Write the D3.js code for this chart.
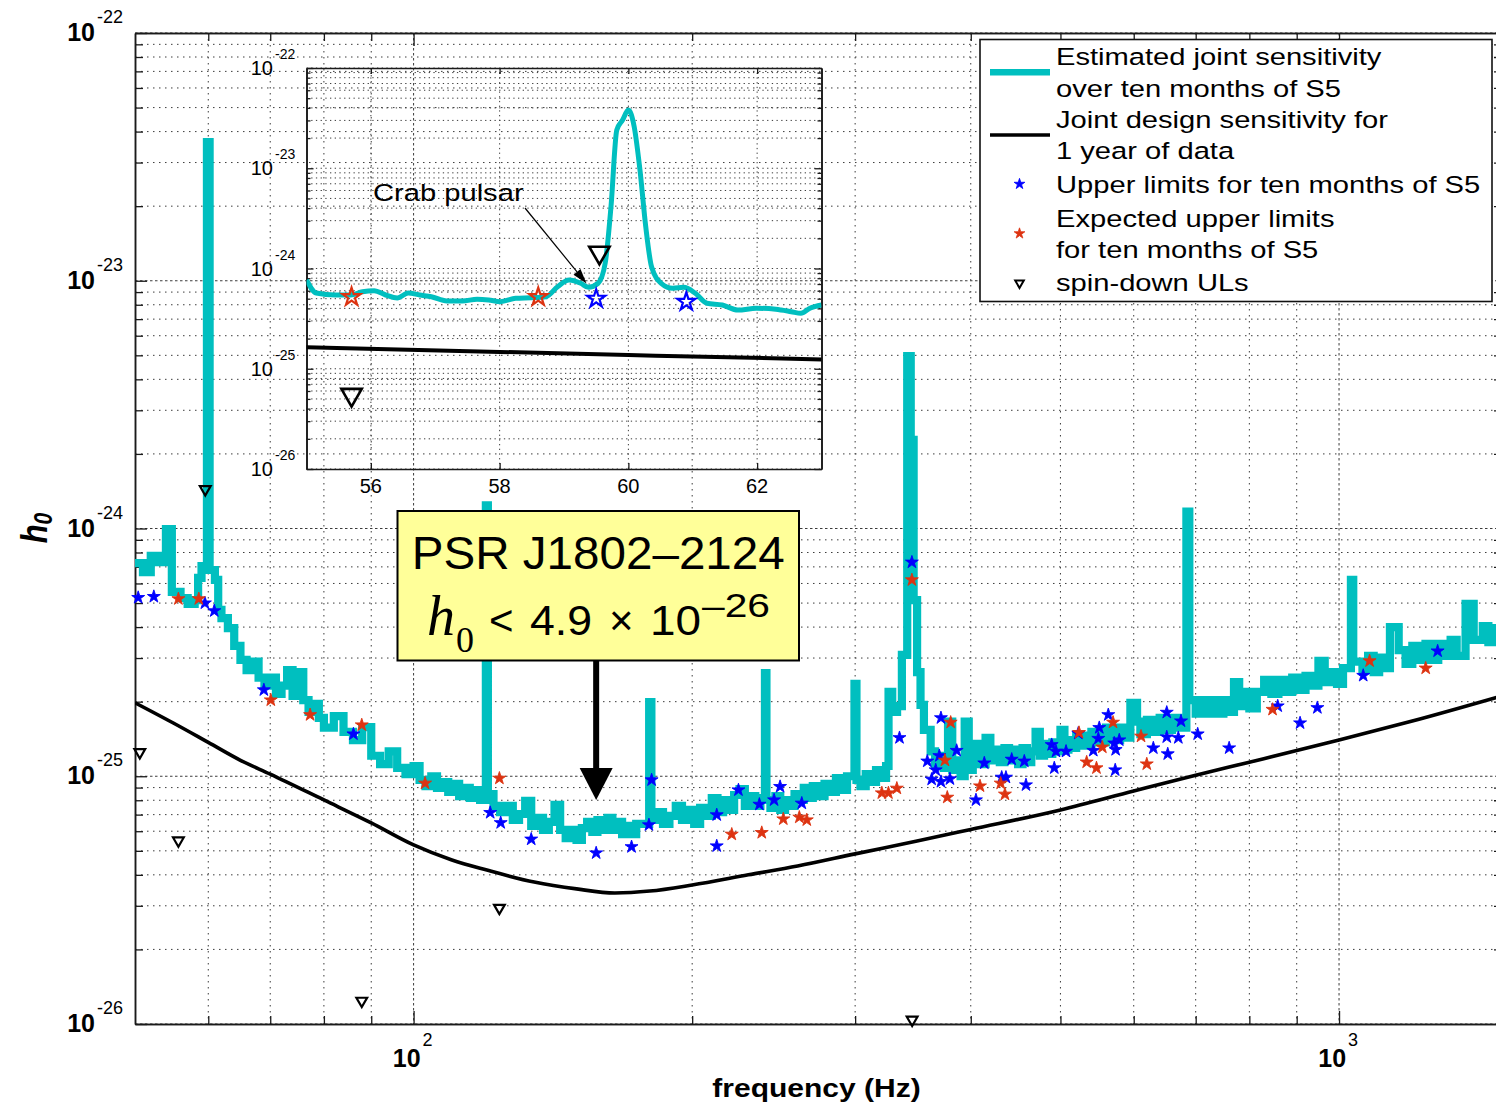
<!DOCTYPE html>
<html>
<head>
<meta charset="utf-8">
<title>Pulsar h0 upper limits vs frequency</title>
<script src="https://cdn.jsdelivr.net/npm/d3@7/dist/d3.min.js"></script>
<style>
  html, body { margin: 0; padding: 0; background: #ffffff; }
  svg { display: block; }
  text { font-family: "Liberation Sans", Arial, Helvetica, sans-serif; fill: #000; }
</style>
</head>
<body>
<svg id="chart" width="1496" height="1104"></svg>
<script>
// ===================== data =====================
// Estimated joint sensitivity over ten months of S5 (step curve, Hz / h0)
const sensFreq = [
  50, 51, 52, 53, 54, 54.8, 56, 57, 58, 58.5, 59, 59.8, 60.2, 61, 61.5, 62, 63, 64, 65, 66,
  67, 68, 69, 70, 71, 72, 73, 74, 75, 76, 77, 78, 79, 80, 82, 84, 86, 88, 90, 92,
  94, 96, 98, 100, 101.5, 103, 104.5, 106, 107.5, 109, 110.5, 112, 113.5, 115, 116.5, 118, 119.7, 120.3, 122, 124,
  126, 128, 130, 132, 134, 136, 138, 140, 142, 144, 146, 148, 150, 152, 154, 156, 158, 160, 162, 164,
  166, 168, 170, 172, 174, 179.7, 180.7, 183, 186, 189, 192, 195, 198, 201, 204, 207, 210, 213, 216, 219,
  222, 225, 228, 231, 234, 237, 239.7, 240.6, 243, 246, 249, 252, 255, 258, 261, 264, 267, 270, 274, 278,
  282, 286, 290, 294, 299.5, 301, 304, 308, 312, 316, 320, 324, 326, 329, 333, 337, 341.5, 344.5, 347, 350,
  353, 356, 362, 366, 370, 374, 378, 382, 386, 390, 394, 398, 402, 406, 410, 415, 420, 425, 430, 435,
  440, 445, 450, 455, 460, 465, 470, 475, 480, 485, 490, 495, 500, 505, 510, 515, 520, 530, 540, 550,
  560, 570, 580, 590, 595, 605, 610, 620, 630, 640, 650, 660, 670, 684, 689, 700, 710, 720, 730, 740,
  750, 760, 770, 780, 790, 800, 815, 830, 845, 860, 875, 890, 905, 920, 935, 950, 965, 980, 995, 1010,
  1030, 1036, 1060, 1075, 1090, 1105, 1120, 1135, 1160, 1180, 1200, 1220, 1240, 1260, 1280, 1300, 1320, 1340, 1370, 1398,
  1430, 1450, 1470, 1490, 1500
];
const sensH0 = [
  7.25e-25, 6.67e-25, 7.75e-25, 7.32e-25, 9.95e-25, 5.55e-25, 5.24e-25, 4.96e-25, 5.14e-25, 6.32e-25, 7.05e-25, 3.63e-23, 6.80e-25, 6.20e-25, 4.69e-25, 4.35e-25, 3.96e-25, 3.36e-25, 2.95e-25, 2.68e-25,
  2.90e-25, 2.50e-25, 2.32e-25, 2.50e-25, 2.15e-25, 2.32e-25, 2.68e-25, 2.11e-25, 2.63e-25, 2.03e-25, 1.82e-25, 1.96e-25, 1.72e-25, 1.57e-25, 1.75e-25, 1.51e-25, 1.40e-25, 1.58e-25, 1.21e-25, 1.12e-25,
  1.26e-25, 1.08e-25, 1.02e-25, 1.10e-25, 9.66e-26, 9.13e-26, 1.00e-25, 8.97e-26, 9.48e-26, 8.64e-26, 9.31e-26, 8.32e-26, 8.97e-26, 8.17e-26, 8.80e-26, 8.02e-26, 1.24e-24, 8.48e-26, 7.59e-26, 7.17e-26,
  7.59e-26, 6.66e-26, 7.04e-26, 7.95e-26, 6.30e-26, 6.79e-26, 6.07e-26, 6.54e-26, 7.66e-26, 6.07e-26, 5.63e-26, 6.07e-26, 5.53e-26, 6.18e-26, 6.54e-26, 5.96e-26, 6.66e-26, 6.07e-26, 6.79e-26, 6.07e-26,
  6.54e-26, 5.84e-26, 6.30e-26, 5.84e-26, 6.42e-26, 1.99e-25, 6.66e-26, 7.17e-26, 6.42e-26, 6.92e-26, 7.59e-26, 6.66e-26, 7.31e-26, 6.42e-26, 7.45e-26, 6.92e-26, 8.17e-26, 7.17e-26, 8.02e-26, 7.31e-26,
  8.40e-26, 8.88e-26, 7.59e-26, 8.32e-26, 7.59e-26, 8.17e-26, 2.61e-25, 8.02e-26, 7.45e-26, 8.32e-26, 7.31e-26, 8.02e-26, 7.59e-26, 8.48e-26, 8.02e-26, 8.97e-26, 8.17e-26, 9.13e-26, 8.32e-26, 9.31e-26,
  8.64e-26, 9.84e-26, 8.80e-26, 1.00e-25, 2.36e-25, 9.66e-26, 9.13e-26, 1.02e-25, 9.48e-26, 1.06e-25, 9.84e-26, 1.10e-25, 2.19e-25, 1.82e-25, 1.92e-25, 3.09e-25, 4.97e-24, 2.28e-24, 5.14e-25, 2.63e-25,
  1.94e-25, 1.54e-25, 1.26e-25, 1.12e-25, 1.21e-25, 1.08e-25, 1.66e-25, 1.06e-25, 1.16e-25, 1.00e-25, 1.66e-25, 1.06e-25, 1.21e-25, 1.35e-25, 1.12e-25, 1.43e-25, 1.16e-25, 1.28e-25, 1.14e-25, 1.30e-25,
  1.16e-25, 1.28e-25, 1.12e-25, 1.30e-25, 1.14e-25, 1.26e-25, 1.51e-25, 1.21e-25, 1.35e-25, 1.23e-25, 1.37e-25, 1.26e-25, 1.54e-25, 1.28e-25, 1.40e-25, 1.30e-25, 1.46e-25, 1.33e-25, 1.51e-25, 1.37e-25,
  1.57e-25, 1.40e-25, 1.57e-25, 1.43e-25, 1.98e-25, 1.66e-25, 1.48e-25, 1.69e-25, 1.51e-25, 1.72e-25, 1.54e-25, 1.72e-25, 1.57e-25, 1.17e-24, 2.03e-25, 1.79e-25, 2.03e-25, 1.79e-25, 2.03e-25, 1.79e-25,
  2.03e-25, 1.82e-25, 2.40e-25, 1.92e-25, 2.19e-25, 1.88e-25, 2.19e-25, 2.45e-25, 2.15e-25, 2.45e-25, 2.19e-25, 2.50e-25, 2.23e-25, 2.54e-25, 2.32e-25, 2.92e-25, 2.40e-25, 2.63e-25, 2.36e-25, 2.73e-25,
  6.20e-25, 2.90e-25, 2.68e-25, 3.06e-25, 2.63e-25, 3.01e-25, 2.73e-25, 4.00e-25, 3.23e-25, 2.84e-25, 3.36e-25, 2.95e-25, 3.42e-25, 2.95e-25, 3.42e-25, 3.06e-25, 3.55e-25, 3.06e-25, 4.96e-25, 3.55e-25,
  4.04e-25, 3.48e-25, 3.96e-25, 3.62e-25, 3.62e-25
];

// Joint design sensitivity for 1 year of data
const designFreq = [50, 55, 60, 65, 70, 80, 90, 100, 110, 120, 135, 150, 165, 180, 200, 230, 260, 300, 350, 400, 500, 600, 700, 800, 1000, 1200, 1500];
const designH0   = [1.98e-25, 1.64e-25, 1.37e-25, 1.16e-25, 1.02e-25, 8.02e-26, 6.48e-26, 5.28e-26, 4.59e-26, 4.18e-26, 3.74e-26, 3.51e-26, 3.38e-26, 3.44e-26, 3.64e-26, 4.00e-26, 4.34e-26, 4.86e-26, 5.48e-26, 6.10e-26, 7.31e-26, 8.72e-26, 1.01e-25, 1.14e-25, 1.40e-25, 1.67e-25, 2.11e-25];

// Upper limits for ten months of S5 (blue)
const ulFreq = [50.4, 52.4, 59.5, 60.9, 68.9, 86.1, 121.0, 124.2, 134.0, 157.5, 172.0, 179.6, 180.8, 212.6, 212.6, 224.4, 236.4, 245.2, 248.9, 262.7,
  335, 345.5, 359.0, 362.9, 366.6, 369.9, 371.4, 371.4, 379.8, 386.2, 405.2, 413.7, 432.0, 436.6, 442.9, 457.0, 458.9, 489.2, 492.4, 494.5,
  507, 522.7, 542.6, 549.4, 550.7, 563.2, 571.6, 573, 573.6, 578.8, 630, 651.4, 651.4, 653, 670.4, 674.9, 703.5, 760.8, 858.5, 907.6,
  947.5, 1062, 1278];
const ulH0 = [5.26e-25, 5.31e-25, 5.0e-25, 4.65e-25, 2.23e-25, 1.48e-25, 7.13e-26, 6.49e-26, 5.57e-26, 4.9e-26, 5.19e-26, 6.36e-26, 9.66e-26, 6.98e-26, 5.23e-26, 8.80e-26, 7.70e-26, 8.02e-26, 9.08e-26, 7.78e-26,
  1.43e-25, 7.31e-25, 1.15e-25, 9.72e-26, 1.06e-25, 1.21e-25, 1.72e-25, 9.51e-26, 9.75e-26, 1.27e-25, 8.02e-26, 1.13e-25, 9.90e-26, 9.90e-26, 1.17e-25, 1.15e-25, 9.22e-26, 1.34e-25, 1.08e-25, 1.26e-25,
  1.26e-25, 1.49e-25, 1.27e-25, 1.42e-25, 1.57e-25, 1.77e-25, 1.36e-25, 1.06e-25, 1.28e-25, 1.40e-25, 1.30e-25, 1.81e-25, 1.44e-25, 1.23e-25, 1.43e-25, 1.67e-25, 1.48e-25, 1.30e-25, 1.92e-25, 1.64e-25,
  1.89e-25, 2.55e-25, 3.20e-25];

// Expected upper limits for ten months of S5 (red)
const expFreq = [55.7, 58.6, 70.1, 77.3, 87.9, 102.9, 123.8, 220.7, 237.8, 250.9, 261.1, 266, 320.6, 325.9, 332.8, 345.5,
  375.1, 377.3, 380.5, 409.3, 430.9, 435.5, 523.6, 533.7, 546.9, 554.9, 569.9, 611, 619.8, 847.5, 1079, 1240.6];
const expH0 = [5.2e-25, 5.2e-25, 2.03e-25, 1.77e-25, 1.61e-25, 9.37e-26, 9.81e-26, 5.83e-26, 5.92e-26, 6.72e-26, 6.83e-26, 6.66e-26, 8.56e-26, 8.56e-26, 8.94e-26, 6.20e-25,
  1.16e-25, 8.22e-26, 1.65e-25, 9.13e-26, 9.37e-26, 8.46e-26, 1.50e-25, 1.14e-25, 1.08e-25, 1.31e-25, 1.65e-25, 1.45e-25, 1.12e-25, 1.86e-25, 2.92e-25, 2.73e-25];

// Spin-down upper limits
const sdFreq = [50.6, 55.7, 59.55, 87.9, 123.8, 345.7];
const sdH0   = [1.25e-25, 5.5e-26, 1.44e-24, 1.24e-26, 2.94e-26, 1.04e-26];

// Zoomed sensitivity around the Crab pulsar (55-63 Hz)
const insetFreq = [55.0, 55.15, 55.45, 55.69, 55.87, 56.05, 56.23, 56.41, 56.58, 56.76, 56.94, 57.18, 57.42, 57.65, 57.83, 58.01, 58.25, 58.49, 58.72, 58.9,
  59.08, 59.26, 59.38, 59.53, 59.64, 59.73, 59.82, 59.91, 60.0, 60.09, 60.18, 60.27, 60.36, 60.51, 60.69, 60.86, 61.04, 61.22, 61.46, 61.70,
  61.99, 62.29, 62.53, 62.68, 62.82, 63.0];
const insetH0 = [7.68e-25, 5.70e-25, 5.44e-25, 5.44e-25, 5.87e-25, 6.00e-25, 5.44e-25, 5.08e-25, 5.70e-25, 5.44e-25, 5.23e-25, 4.74e-25, 4.74e-25, 4.93e-25, 4.85e-25, 4.67e-25, 5.04e-25, 5.11e-25, 5.23e-25, 6.58e-25,
  7.68e-25, 7.12e-25, 6.49e-25, 7.12e-25, 1.13e-24, 4.14e-24, 2.41e-23, 3.03e-23, 3.81e-23, 2.60e-23, 9.60e-24, 2.61e-24, 1.04e-24, 7.12e-25, 6.35e-25, 6.49e-25, 5.66e-25, 4.50e-25, 4.32e-25, 3.85e-25,
  4.01e-25, 3.92e-25, 3.71e-25, 3.57e-25, 4.01e-25, 4.32e-25];

// Tick labels
const yTickExp = [-26, -25, -24, -23, -22];
const xTickExp = [2, 3];
const insetXTicks = [56, 58, 60, 62];

// Highlighted pulsar
const psrName = "PSR J1802\u20132124";
const psrFreq = 157.5;
const psrH0 = 4.9e-26;

// Legend entries
const legendLabels = [
  ["Estimated joint sensitivity", "over ten months of S5"],
  ["Joint design sensitivity for", "1 year of data"],
  ["Upper limits for ten months of S5"],
  ["Expected upper limits", "for ten months of S5"],
  ["spin-down ULs"]
];

// ===================== styles =====================
const CYAN = "#00bfbf", BLUE = "#0000ff", RED = "#dd3311", INK = "#1a1a1a", GRID = "#3c3c3c";
const TEXT_SX = 1.19;   // horizontal stretch of figure text

// ===================== drawing =====================
const svg = d3.select("#chart");
const W = +svg.attr("width"), H = +svg.attr("height");
svg.append("rect").attr("width", W).attr("height", H).attr("fill", "#fff");

const M = { left: 135, right: 1502, top: 33, bottom: 1024 };
const x = d3.scaleLog().domain([50, 1500]).range([M.left, M.right]);
const y = d3.scaleLog().domain([1e-26, 1e-22]).range([M.bottom, M.top]);

function logMinor(lo, hi, dom) {
  const out = [];
  for (let e = lo; e < hi; e++) for (let k = 2; k <= 9; k++) {
    const v = k * Math.pow(10, e);
    if (v > dom[0] * 1.0001 && v < dom[1] * 0.9999) out.push(v);
  }
  return out;
}
const xMajor = xTickExp.map(e => Math.pow(10, e));
const xMinor = logMinor(1, 4, x.domain());
const yMajor = yTickExp.map(e => Math.pow(10, e));
const yMinor = logMinor(-26, -22, y.domain());

function label(parent, str, px, py, opt = {}) {
  const t = parent.append("text")
    .attr("transform", `translate(${px},${py})` + (opt.sx ? ` scale(${opt.sx},1)` : ""))
    .attr("font-size", opt.size || 24)
    .attr("text-anchor", opt.anchor || "start")
    .text(str);
  if (opt.weight) t.attr("font-weight", opt.weight);
  if (opt.style) t.attr("font-style", opt.style);
  if (opt.fill) t.attr("fill", opt.fill);
  if (opt.family) t.attr("font-family", opt.family);
  if (opt.len) t.attr("textLength", opt.len).attr("lengthAdjust", "spacingAndGlyphs");
  return t;
}

const defs = svg.append("defs");
defs.append("clipPath").attr("id", "clipMain").append("rect")
  .attr("x", M.left).attr("y", M.top).attr("width", M.right - M.left).attr("height", M.bottom - M.top);

// ---- main grid ----
const grid = svg.append("g").attr("fill", "none").attr("stroke", GRID).attr("stroke-width", 1);
grid.selectAll("line.gx").data(xMinor.concat(xMajor)).join("line")
  .attr("x1", d => x(d)).attr("x2", d => x(d)).attr("y1", M.top).attr("y2", M.bottom)
  .attr("stroke-dasharray", d => xMajor.includes(d) ? "2.5,2.5" : "1.5,4.5");
grid.selectAll("line.gy").data(yMinor.concat(yMajor)).join("line")
  .attr("x1", M.left).attr("x2", M.right).attr("y1", d => y(d)).attr("y2", d => y(d))
  .attr("stroke-dasharray", d => yMajor.includes(d) ? "2.5,2.5" : "1.5,4.5");

// ---- main axes (ticks inward) ----
function styleAxis(g) {
  g.select(".domain").attr("stroke", INK).attr("stroke-width", 1.5);
  g.selectAll(".tick line").attr("stroke", INK).attr("stroke-width", 1.3);
  g.selectAll(".tick text").remove();
}
const axes = svg.append("g");
axes.append("g").attr("transform", `translate(0,${M.bottom})`)
  .call(d3.axisBottom(x).tickValues(xMinor).tickSize(-8).tickSizeOuter(0).tickFormat("")).call(styleAxis);
axes.append("g").attr("transform", `translate(0,${M.bottom})`)
  .call(d3.axisBottom(x).tickValues(xMajor).tickSize(-13).tickSizeOuter(0).tickFormat("")).call(styleAxis);
axes.append("g").attr("transform", `translate(0,${M.top})`)
  .call(d3.axisTop(x).tickValues(xMinor).tickSize(-8).tickSizeOuter(0).tickFormat("")).call(styleAxis);
axes.append("g").attr("transform", `translate(0,${M.top})`)
  .call(d3.axisTop(x).tickValues(xMajor).tickSize(-13).tickSizeOuter(0).tickFormat("")).call(styleAxis);
axes.append("g").attr("transform", `translate(${M.left},0)`)
  .call(d3.axisLeft(y).tickValues(yMinor).tickSize(-8).tickSizeOuter(0).tickFormat("")).call(styleAxis);
axes.append("g").attr("transform", `translate(${M.left},0)`)
  .call(d3.axisLeft(y).tickValues(yMajor).tickSize(-12).tickSizeOuter(0).tickFormat("")).call(styleAxis);
axes.append("g").attr("transform", `translate(${M.right},0)`)
  .call(d3.axisRight(y).tickValues(yMinor).tickSize(-8).tickSizeOuter(0).tickFormat("")).call(styleAxis);

// ---- main tick labels: 10^n ----
yTickExp.forEach(e => {
  const yy = y(Math.pow(10, e));
  label(svg, "10", 95, yy + 8, { size: 25, anchor: "end", weight: "bold" });
  label(svg, String(e), 97, yy - 10, { size: 18 });
});
xTickExp.forEach(e => {
  const xx = x(Math.pow(10, e));
  label(svg, "10", xx + 7, 1067, { size: 25, anchor: "end", weight: "bold" });
  label(svg, String(e), xx + 9, 1046, { size: 18 });
});

// ---- axis titles ----
label(svg, "frequency (Hz)", (M.left + M.right) / 2 - 2, 1097, { size: 25, anchor: "middle", weight: "bold", sx: 1.2 });
const yTitle = svg.append("text")
  .attr("transform", "translate(47,528) scale(1.2,1) rotate(-90)")
  .attr("text-anchor", "middle").attr("font-weight", "bold").attr("font-style", "italic");
yTitle.append("tspan").attr("font-size", 31).text("h");
yTitle.append("tspan").attr("font-size", 21).attr("dy", 4).text("0");

// ---- main data ----
const sens = sensFreq.map((f, i) => [f, sensH0[i]]);
const design = designFreq.map((f, i) => [f, designH0[i]]);
const ul = ulFreq.map((f, i) => [f, ulH0[i]]);
const exp = expFreq.map((f, i) => [f, expH0[i]]);
const sd = sdFreq.map((f, i) => [f, sdH0[i]]);

const dataG = svg.append("g").attr("clip-path", "url(#clipMain)");
dataG.append("path").datum(sens)
  .attr("d", d3.line().x(d => x(d[0])).y(d => y(d[1])).curve(d3.curveStepAfter))
  .attr("fill", "none").attr("stroke", CYAN).attr("stroke-width", 8.2).attr("stroke-linejoin", "miter");
dataG.append("path").datum(design)
  .attr("d", d3.line().x(d => x(d[0])).y(d => y(d[1])).curve(d3.curveMonotoneX))
  .attr("fill", "none").attr("stroke", "#000").attr("stroke-width", 3.6);

const starMain = d3.symbol().type(d3.symbolStar).size(52)();
const triMain = d3.symbol().type(d3.symbolTriangle).size(50)();
svg.append("g").selectAll("path").data(ul).join("path")
  .attr("d", starMain).attr("transform", d => `translate(${x(d[0])},${y(d[1])})`)
  .attr("fill", BLUE).attr("stroke", BLUE).attr("stroke-width", 0.9).attr("stroke-linejoin", "round");
svg.append("g").selectAll("path").data(exp).join("path")
  .attr("d", starMain).attr("transform", d => `translate(${x(d[0])},${y(d[1])})`)
  .attr("fill", RED).attr("stroke", RED).attr("stroke-width", 0.9).attr("stroke-linejoin", "round");
svg.append("g").selectAll("path").data(sd).join("path")
  .attr("d", triMain).attr("transform", d => `translate(${x(d[0])},${y(d[1])}) rotate(180)`)
  .attr("fill", "none").attr("stroke", "#000").attr("stroke-width", 2.2);

// ===================== inset: 55-63 Hz =====================
const I = { left: 306.5, right: 821.5, top: 68, bottom: 469 };
const xi = d3.scaleLinear().domain([55, 63]).range([I.left, I.right]);
const yi = d3.scaleLog().domain([1e-26, 1e-22]).range([I.bottom, I.top]);
defs.append("clipPath").attr("id", "clipInset").append("rect")
  .attr("x", I.left).attr("y", I.top).attr("width", I.right - I.left).attr("height", I.bottom - I.top);

const igrid = svg.append("g").attr("fill", "none").attr("stroke", GRID).attr("stroke-width", 1);
igrid.selectAll("line.h").data(yMinor.concat(yMajor)).join("line")
  .attr("x1", I.left).attr("x2", I.right).attr("y1", d => yi(d)).attr("y2", d => yi(d))
  .attr("stroke-dasharray", "1.3,3.4");
igrid.selectAll("line.v").data(insetXTicks).join("line")
  .attr("x1", d => xi(d)).attr("x2", d => xi(d)).attr("y1", I.top).attr("y2", I.bottom)
  .attr("stroke-dasharray", "1.3,3.4");

const iaxes = svg.append("g");
iaxes.append("g").attr("transform", `translate(0,${I.bottom})`)
  .call(d3.axisBottom(xi).tickValues(insetXTicks).tickSize(-6).tickSizeOuter(0).tickFormat("")).call(styleAxis);
iaxes.append("g").attr("transform", `translate(0,${I.top})`)
  .call(d3.axisTop(xi).tickValues(insetXTicks).tickSize(-6).tickSizeOuter(0).tickFormat("")).call(styleAxis);
iaxes.append("g").attr("transform", `translate(${I.left},0)`)
  .call(d3.axisLeft(yi).tickValues(yMinor).tickSize(-4).tickSizeOuter(0).tickFormat("")).call(styleAxis);
iaxes.append("g").attr("transform", `translate(${I.left},0)`)
  .call(d3.axisLeft(yi).tickValues(yMajor).tickSize(-7).tickSizeOuter(0).tickFormat("")).call(styleAxis);
iaxes.append("g").attr("transform", `translate(${I.right},0)`)
  .call(d3.axisRight(yi).tickValues(yMinor).tickSize(-4).tickSizeOuter(0).tickFormat("")).call(styleAxis);
iaxes.append("g").attr("transform", `translate(${I.right},0)`)
  .call(d3.axisRight(yi).tickValues(yMajor).tickSize(-7).tickSizeOuter(0).tickFormat("")).call(styleAxis);
iaxes.selectAll(".domain").attr("stroke-width", 1.6);

yTickExp.forEach(e => {
  const yy = yi(Math.pow(10, e));
  label(svg, "10", 273, yy + 7, { size: 20, anchor: "end", fill: "#222" });
  label(svg, String(e), 275, yy - 9, { size: 14, fill: "#222" });
});
insetXTicks.forEach(t => label(svg, String(t), xi(t), 493, { size: 20, anchor: "middle", fill: "#222" }));

const inset = insetFreq.map((f, i) => [f, insetH0[i]]);
const idata = svg.append("g").attr("clip-path", "url(#clipInset)");
idata.append("path").datum(inset)
  .attr("d", d3.line().x(d => xi(d[0])).y(d => yi(d[1])).curve(d3.curveMonotoneX))
  .attr("fill", "none").attr("stroke", CYAN).attr("stroke-width", 5).attr("stroke-linejoin", "round");
idata.append("path").datum(design)
  .attr("d", d3.line().x(d => xi(d[0])).y(d => yi(d[1])).curve(d3.curveMonotoneX))
  .attr("fill", "none").attr("stroke", "#000").attr("stroke-width", 4);

const inWin = d => d[0] >= 55 && d[0] <= 63;
const starInset = d3.symbol().type(d3.symbolStar).size(100)();
const triInset = d3.symbol().type(d3.symbolTriangle).size(180)();
svg.append("g").selectAll("path").data(exp.filter(inWin)).join("path")
  .attr("d", starInset).attr("transform", d => `translate(${xi(d[0])},${yi(d[1])})`)
  .attr("fill", "none").attr("stroke", RED).attr("stroke-width", 2.2);
svg.append("g").selectAll("path").data(ul.filter(inWin)).join("path")
  .attr("d", starInset).attr("transform", d => `translate(${xi(d[0])},${yi(d[1])})`)
  .attr("fill", "none").attr("stroke", BLUE).attr("stroke-width", 2.2);
svg.append("g").selectAll("path").data(sd.filter(inWin)).join("path")
  .attr("d", triInset).attr("transform", d => `translate(${xi(d[0])},${yi(d[1])}) rotate(180)`)
  .attr("fill", "none").attr("stroke", "#000").attr("stroke-width", 2.6);

// Crab pulsar annotation
label(svg, "Crab pulsar", 373, 201, { size: 24.5, sx: TEXT_SX });
(function () {
  const p0 = [525, 208], p1 = [586.5, 283.5];
  const dx = p1[0] - p0[0], dy = p1[1] - p0[1], L = Math.hypot(dx, dy);
  const ux = dx / L, uy = dy / L, hl = 15, hw = 4.5;
  const bx = p1[0] - ux * hl, by = p1[1] - uy * hl;
  svg.append("line").attr("x1", p0[0]).attr("y1", p0[1]).attr("x2", bx).attr("y2", by)
    .attr("stroke", "#000").attr("stroke-width", 1.2);
  svg.append("path").attr("d", `M${p1[0]},${p1[1]}L${bx - uy * hw},${by + ux * hw}L${bx + uy * hw},${by - ux * hw}Z`)
    .attr("fill", "#000");
})();

// ===================== legend =====================
const lg = svg.append("g");
lg.append("rect").attr("x", 980).attr("y", 39.5).attr("width", 512).attr("height", 262)
  .attr("fill", "#fff").attr("stroke", "#111").attr("stroke-width", 1.6);
const legendBase = [[65, 96.5], [127.5, 158.5], [192.5], [226.5, 257.5], [290.5]];
legendLabels.forEach((lines, i) => lines.forEach((s, j) =>
  label(lg, s, 1056, legendBase[i][j], { size: 24.5, sx: TEXT_SX })));
lg.append("line").attr("x1", 990).attr("x2", 1050).attr("y1", 72.3).attr("y2", 72.3)
  .attr("stroke", CYAN).attr("stroke-width", 6.5);
lg.append("line").attr("x1", 990).attr("x2", 1050).attr("y1", 135).attr("y2", 135)
  .attr("stroke", "#000").attr("stroke-width", 3.6);
const starLeg = d3.symbol().type(d3.symbolStar).size(36)();
lg.append("path").attr("d", starLeg).attr("transform", "translate(1019.5,184)").attr("fill", BLUE)
  .attr("stroke", BLUE).attr("stroke-width", 0.8);
lg.append("path").attr("d", starLeg).attr("transform", "translate(1019.5,233.5)").attr("fill", RED)
  .attr("stroke", RED).attr("stroke-width", 0.8);
lg.append("path").attr("d", d3.symbol().type(d3.symbolTriangle).size(32)())
  .attr("transform", "translate(1019.5,283) rotate(180)")
  .attr("fill", "none").attr("stroke", "#000").attr("stroke-width", 2);

// ===================== highlighted pulsar box =====================
const box = { x: 397.5, y: 511, w: 401.5, h: 149.5 };
const bcx = box.x + box.w / 2;
svg.append("rect").attr("x", box.x).attr("y", box.y).attr("width", box.w).attr("height", box.h)
  .attr("fill", "#ffff99").attr("stroke", "#000").attr("stroke-width", 2);
label(svg, psrName, bcx, 568.5, { size: 46, anchor: "middle", len: 373 });

const [mant, expo] = psrH0.toExponential(1).split("e");
const eq = svg.append("text").attr("y", 635).attr("font-size", 42);
eq.append("tspan").attr("x", 427).attr("font-family", "Liberation Serif, Times New Roman, serif")
  .attr("font-style", "italic").attr("font-size", 56).text("h");
eq.append("tspan").attr("x", 456).attr("y", 652).attr("font-family", "Liberation Serif, Times New Roman, serif")
  .attr("font-size", 36).text("0");
eq.append("tspan").attr("x", 489).attr("y", 635).text("<");
eq.append("tspan").attr("x", 530).attr("y", 635).attr("textLength", 62).attr("lengthAdjust", "spacingAndGlyphs").text(mant);
eq.append("tspan").attr("x", 609).attr("y", 635).text("\u00d7");
eq.append("tspan").attr("x", 650).attr("y", 635).attr("textLength", 51).attr("lengthAdjust", "spacingAndGlyphs").text("10");
eq.append("tspan").attr("x", 702).attr("y", 617).attr("font-size", 34)
  .attr("textLength", 68).attr("lengthAdjust", "spacingAndGlyphs").text("\u2013" + String(Math.abs(+expo)));

// arrow from the box down to the pulsar's limit
const ax = x(psrFreq);
svg.append("rect").attr("x", ax - 3).attr("y", box.y + box.h).attr("width", 6).attr("height", 770 - (box.y + box.h))
  .attr("fill", "#000");
svg.append("path").attr("d", `M${ax - 16.5},768L${ax + 16.5},768L${ax},800Z`).attr("fill", "#000");
</script>
</body>
</html>
